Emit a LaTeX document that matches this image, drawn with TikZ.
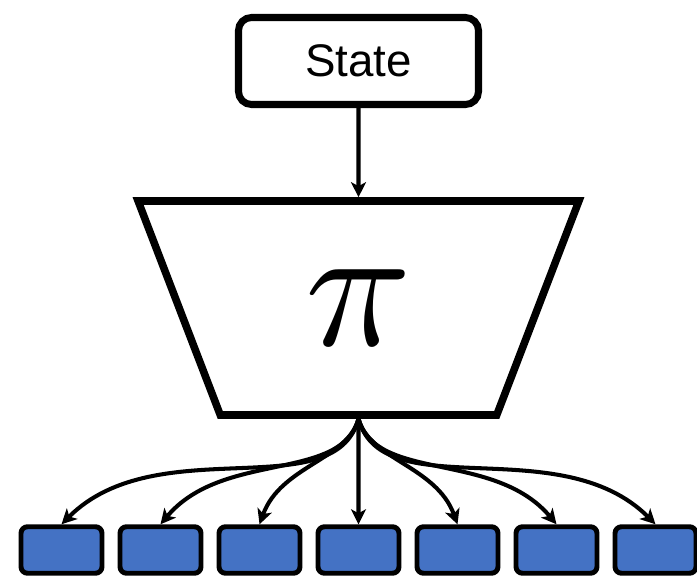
\documentclass[tikz,border=0pt]{standalone}
\usepackage{fontspec}
\setmainfont{Liberation Sans}
\usepackage{xcolor}
\usetikzlibrary{arrows.meta,positioning,shapes.geometric}

\definecolor{actblue}{HTML}{4472C4}

\begin{document}
\begin{tikzpicture}[
    >={Stealth[length=3mm, width=3mm, inset=0.8mm]},
    statebox/.style ={draw=black, line width=4pt, rounded corners=2.6mm,
                      fill=white, minimum width=4.8cm, minimum height=1.74cm,
                      font=\fontsize{26}{30}\selectfont, inner sep=0pt},
    policy/.style   ={draw=black, line width=4.3pt, trapezium,
                      shape border rotate=180, trapezium angle=67.3,
                      trapezium stretches=true,
                      minimum width=8.86cm, minimum height=4.28cm, inner sep=0pt},
    actbox/.style   ={draw=black, line width=2.8pt, rounded corners=1.3mm,
                      fill=actblue, minimum width=1.62cm, minimum height=0.93cm,
                      inner sep=0pt},
    flow/.style     ={->, line width=2.3pt, draw=black},
    fan/.style      ={flow, out looseness=0.75, in looseness=1.1}
]
\path[use as bounding box] (0,0) rectangle (13.94,-11.52);

% --- State on top, policy trapezium in the middle. ---
\node[statebox] (state)  at (7.17,-1.22) {State};
\node[policy]   (policy) at (7.17,-6.16) {\scalebox{10}{$\pi$}};

% --- Row of seven action boxes at the bottom. ---
\node[actbox] (act1) at (1.23,-11.00) {};
\node[actbox] (act2) at (3.21,-11.00) {};
\node[actbox] (act3) at (5.19,-11.00) {};
\node[actbox] (act4) at (7.17,-11.00) {};
\node[actbox] (act5) at (9.15,-11.00) {};
\node[actbox] (act6) at (11.13,-11.00) {};
\node[actbox] (act7) at (13.11,-11.00) {};

% --- State -> policy. ---
\draw[flow] (state.south) -- (policy.north);

% --- Policy fans out to every action. ---
\draw[fan] (policy.south) to[out=-105, in=45]  (act1.north);
\draw[fan] (policy.south) to[out=-105, in=50]  (act2.north);
\draw[fan] (policy.south) to[out=-105, in=70]  (act3.north);
\draw[flow] (policy.south) -- (act4.north);
\draw[fan] (policy.south) to[out=-75,  in=110] (act5.north);
\draw[fan] (policy.south) to[out=-75,  in=130] (act6.north);
\draw[fan] (policy.south) to[out=-75,  in=135] (act7.north);

\end{tikzpicture}
\end{document}
